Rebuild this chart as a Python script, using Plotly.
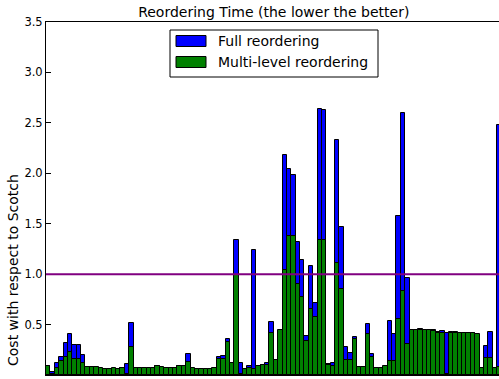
import plotly.graph_objects as go

# Reordering cost per test matrix, relative to Scotch (1.0 = same cost)
full_reordering = [
    0.085, 0.025, 0.116, 0.18, 0.32, 0.41, 0.297, 0.297, 0.20, 0.07,
    0.075, 0.07, 0.06, 0.05, 0.05, 0.06, 0.05, 0.065, 0.105, 0.52,
    0.065, 0.06, 0.06, 0.06, 0.06, 0.085, 0.07, 0.065, 0.065, 0.068,
    0.088, 0.084, 0.208, 0.06, 0.05, 0.05, 0.05, 0.05, 0.06, 0.18,
    0.188, 0.355, 0.11, 1.335, 0.122, 0.055, 0.093, 1.24, 0.085, 0.10,
    0.12, 0.525, 0.14, 0.44, 2.18, 2.04, 1.987, 1.32, 1.14, 0.386,
    1.08, 0.716, 2.64, 2.63, 0.105, 0.116, 2.33, 1.465, 0.28, 0.22,
    0.373, 0.07, 0.07, 0.505, 0.205, 0.06, 0.06, 0.08, 0.538, 0.406,
    1.574, 2.60, 0.957, 0.45, 0.45, 0.46, 0.44, 0.45, 0.45, 0.426,
    0.432, 0.416, 0.426, 0.426, 0.41, 0.42, 0.41, 0.418, 0.40, 0.06,
    0.287, 0.426, 0.065, 2.475,
]
multi_level_reordering = [
    0.092, 0.01, 0.072, 0.139, 0.175, 0.225, 0.158, 0.158, 0.12, 0.075,
    0.08, 0.075, 0.065, 0.056, 0.056, 0.065, 0.056, 0.07, 0.01, 0.28,
    0.07, 0.065, 0.065, 0.065, 0.066, 0.089, 0.075, 0.07, 0.07, 0.072,
    0.093, 0.089, 0.129, 0.066, 0.056, 0.056, 0.056, 0.056, 0.066, 0.155,
    0.158, 0.325, 0.116, 0.99, 0.01, 0.06, 0.074, 0.06, 0.09, 0.104,
    0.098, 0.415, 0.147, 0.45, 1.04, 1.376, 1.376, 0.90, 0.77, 0.333,
    0.65, 0.58, 1.343, 1.343, 0.095, 0.089, 1.106, 0.857, 0.149, 0.149,
    0.353, 0.076, 0.076, 0.41, 0.175, 0.066, 0.066, 0.086, 0.137, 0.143,
    0.56, 0.83, 0.307, 0.446, 0.446, 0.446, 0.446, 0.446, 0.44, 0.413,
    0.42, 0.01, 0.413, 0.413, 0.413, 0.413, 0.413, 0.413, 0.41, 0.066,
    0.168, 0.168, 0.07, 0.08,
]
matrices = list(range(len(full_reordering)))
baseline = 1.0
y_ticks = [0.0, 0.5, 1.0, 1.5, 2.0, 2.5, 3.0, 3.5]

series_names = ["Full reordering", "Multi-level reordering"]
series_colors = ["#0000ff", "#008000"]

FONT = "DejaVu Sans, Verdana, sans-serif"

fig = go.Figure()
for values, name, color in zip([full_reordering, multi_level_reordering],
                               series_names, series_colors):
    fig.add_trace(go.Bar(
        x=matrices, y=values, name=name, width=1.0,
        marker=dict(color=color, line=dict(color="black", width=1)),
        opacity=1, showlegend=False, hoverinfo="skip",
    ))

# reference line at parity with Scotch
fig.add_shape(type="line", xref="paper", yref="y", x0=0, x1=1,
              y0=baseline, y1=baseline,
              line=dict(color="#800080", width=2), layer="above")

# legend box drawn in paper coordinates
L, R, T, B = 46, 499, 22, 375
def px_x(p):
    return (p - L) / (R - L)
def px_y(p):
    return (B - p) / (B - T)

fig.add_shape(type="rect", xref="paper", yref="paper",
              x0=px_x(170), x1=px_x(378), y0=px_y(77), y1=px_y(30),
              line=dict(color="black", width=1), fillcolor="white",
              layer="above")
for i, (name, color) in enumerate(zip(series_names, series_colors)):
    cy = 41 + 21 * i
    fig.add_shape(type="rect", xref="paper", yref="paper",
                  x0=px_x(176), x1=px_x(206), y0=px_y(cy + 5.5),
                  y1=px_y(cy - 5.5),
                  line=dict(color="black", width=1), fillcolor=color,
                  layer="above")
    fig.add_annotation(xref="paper", yref="paper", x=px_x(216), y=px_y(cy),
                       text=name, showarrow=False, xanchor="left",
                       yanchor="middle",
                       font=dict(family=FONT, size=14, color="black"))

fig.add_annotation(xref="paper", yref="paper", x=px_x(13), y=px_y(270),
                   text="Cost with respect to Scotch", textangle=-90,
                   showarrow=False, xanchor="center", yanchor="middle",
                   font=dict(family=FONT, size=14, color="black"))

fig.update_layout(
    width=499, height=379,
    margin=dict(l=L, r=0, t=T, b=379 - B, pad=0),
    paper_bgcolor="white", plot_bgcolor="white",
    barmode="overlay", bargap=0,
    showlegend=False,
    title=dict(text="Reordering Time (the lower the better)",
               x=(273.75) / 499, xanchor="center", xref="container",
               y=1 - 12 / 379, yanchor="middle", yref="container",
               font=dict(family=FONT, size=14, color="black")),
    font=dict(family=FONT, color="black"),
    xaxis=dict(range=[-0.5, 102.93], showticklabels=False, ticks="",
               showgrid=False, zeroline=False, showline=True,
               linecolor="black", linewidth=1, mirror=True),
    yaxis=dict(range=[0, 3.5], tickvals=y_ticks, tickformat=".1f",
               ticks="inside", ticklen=5, tickcolor="black",
               showgrid=False, zeroline=False, showline=True,
               linecolor="black", linewidth=1,
               tickfont=dict(family=FONT, size=11.5, color="black")),
    yaxis2=dict(range=[0, 3.5], tickvals=y_ticks, overlaying="y",
                side="right", anchor="x", ticks="inside", ticklen=2,
                tickcolor="black", showticklabels=False, showgrid=False,
                zeroline=False, showline=False),
)

fig.write_html("out.html")
